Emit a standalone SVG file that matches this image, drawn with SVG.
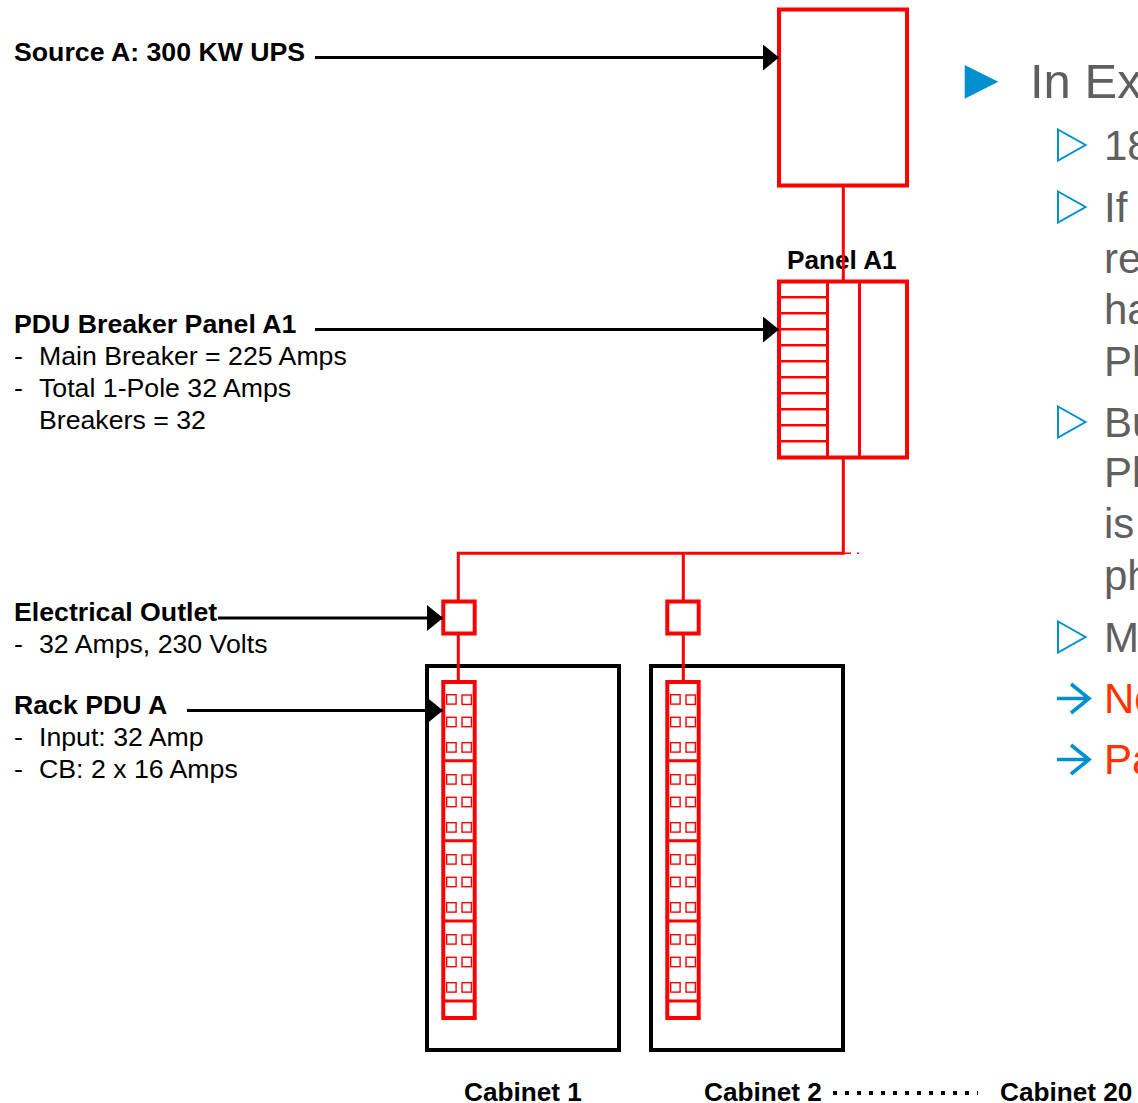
<svg xmlns="http://www.w3.org/2000/svg" xmlns:xlink="http://www.w3.org/1999/xlink" width="1138" height="1103" viewBox="0 0 1138 1103">
<style>
text{font-family:"Liberation Sans",Arial,sans-serif}
.lb{font-size:26.7px;fill:#000;font-weight:700}
.cb{font-size:26.2px;fill:#000;font-weight:700}
.lr{font-size:26.7px;fill:#000}
.h1{font-size:49px;fill:#5f5f5f}
.h2{font-size:42px;fill:#5f5f5f}
.hr{font-size:42px;fill:#ff3300}
.red{fill:none;stroke:#f00;stroke-width:4}
.wire{fill:none;stroke:#f00;stroke-width:3}
.thin{fill:none;stroke:#f00;stroke-width:3}
.sock{fill:none;stroke:#f00;stroke-width:1.4}
.cab{fill:none;stroke:#000;stroke-width:4}
.lead{fill:none;stroke:#000;stroke-width:3}
.tri{fill:none;stroke:#0090d0;stroke-width:2}
.arr{fill:none;stroke:#0090d0;stroke-width:3.6}
</style>
<defs>
<marker id="ah" markerUnits="userSpaceOnUse" markerWidth="16" markerHeight="26" refX="16" refY="13" orient="auto"><path d="M0 0L16 13L0 26Z" fill="#000"/></marker>
<g id="sockets">
<rect class="sock" x="446.7" y="694.7" width="9.4" height="9.4"/><rect class="sock" x="462" y="695" width="9.4" height="9.4"/>
<rect class="sock" x="446.7" y="717.3" width="9.4" height="9.4"/><rect class="sock" x="462" y="717.3" width="9.4" height="9.4"/>
<rect class="sock" x="446.7" y="742.7" width="9.4" height="9.4"/><rect class="sock" x="462" y="742.7" width="9.4" height="9.4"/>
</g>
<g id="rackpdu">
<rect class="red" x="443.3" y="682" width="31.4" height="336"/>
<path class="thin" d="M443 760.7H475M443 840.7H475M443 921H475M443 1001H475"/>
<use xlink:href="#sockets"/><use xlink:href="#sockets" y="80"/><use xlink:href="#sockets" y="160"/><use xlink:href="#sockets" y="240"/>
</g>
</defs>

<g id="cabinet-1"><rect class="cab" x="427" y="666" width="192" height="384"/><text class="cb" x="464" y="1101">Cabinet 1</text></g>
<g id="cabinet-2"><rect class="cab" x="651" y="666" width="192" height="384"/><text class="cb" x="704" y="1101">Cabinet 2</text></g>
<g id="cabinet-20"><text class="cb" x="1000" y="1101">Cabinet 20</text></g>

<g id="label-source"><text class="lb" x="14" y="61">Source A: 300 KW UPS</text></g>
<g id="label-pdu">
<text class="lb" x="14" y="333">PDU Breaker Panel A1</text>
<text class="lr" x="14" y="365">-</text><text class="lr" x="39" y="365">Main Breaker = 225 Amps</text>
<text class="lr" x="14" y="397">-</text><text class="lr" x="39" y="397">Total 1-Pole 32 Amps</text>
<text class="lr" x="39" y="429">Breakers = 32</text>
</g>
<g id="label-outlet">
<text class="lb" x="14" y="621">Electrical Outlet</text>
<text class="lr" x="14" y="653">-</text><text class="lr" x="39" y="653">32 Amps, 230 Volts</text>
</g>
<g id="label-rack">
<text class="lb" x="14" y="714">Rack PDU A</text>
<text class="lr" x="14" y="746">-</text><text class="lr" x="39" y="746">Input: 32 Amp</text>
<text class="lr" x="14" y="778">-</text><text class="lr" x="39" y="778">CB: 2 x 16 Amps</text>
</g>

<g id="ups"><rect class="red" x="779" y="9.5" width="128" height="176"/></g>
<g id="panel-a1">
<text class="cb" x="787" y="269">Panel A1</text>
<rect class="red" x="779" y="281.5" width="128" height="176"/>
<path class="wire" d="M827.5 281V458M859.5 281V458"/>
<path fill="none" stroke="#f00" stroke-width="2.4" d="M779 297.3H827M779 313.3H827M779 329.3H827M779 345.3H827M779 361.3H827M779 377.3H827M779 393.3H827M779 409.3H827M779 425.3H827M779 441.3H827"/>
</g>
<g id="outlet-1"><rect class="red" x="443.3" y="601.5" width="31.4" height="32"/></g>
<g id="outlet-2"><rect class="red" x="667.3" y="601.5" width="31.4" height="32"/></g>
<g id="rack-pdu-1"><use xlink:href="#rackpdu"/></g>
<g id="rack-pdu-2"><use xlink:href="#rackpdu" x="224"/></g>

<g id="connectors">
<path class="wire" d="M843.3 186V281M843.3 458V553.3H458.3V600M683.3 553.3V600M458.3 635V680M683.3 635V680"/>
<path fill="none" stroke="#f00" stroke-width="1.5" d="M843 553.3H851M857 553.3H859"/>
<path class="lead" marker-end="url(#ah)" d="M315 57.5H779"/>
<path class="lead" marker-end="url(#ah)" d="M315 329.5H779"/>
<path class="lead" marker-end="url(#ah)" d="M218 618H443"/>
<path class="lead" marker-end="url(#ah)" d="M187 710.5H443"/>
<path fill="none" stroke="#000" stroke-width="4" stroke-dasharray="4 8" d="M833 1093H978"/>
</g>

<g id="bullets">
<path fill="#0090d0" d="M964.7 65L998.3 81.8L964.7 98.7Z"/>
<path class="tri" d="M1058 129.5L1085.5 145L1058 160.5Z"/>
<path class="tri" d="M1058 191.5L1085.5 207L1058 222.5Z"/>
<path class="tri" d="M1058 406.5L1085.5 422L1058 437.5Z"/>
<path class="tri" d="M1058 621.5L1085.5 637L1058 652.5Z"/>
<path class="arr" d="M1057 698.5H1089M1071 684L1089 698.5L1071 713"/>
<path class="arr" d="M1057 759.5H1089M1071 745L1089 759.5L1071 774"/>
</g>
<g id="body-text">
<text class="h1" x="1030" y="98">In Ex</text>
<text class="h2" x="1104" y="160">18</text>
<text class="h2" x="1104" y="222">If</text>
<text class="h2" x="1104" y="273">re</text>
<text class="h2" x="1104" y="324">ha</text>
<text class="h2" x="1104" y="376">Pl</text>
<text class="h2" x="1104" y="437">Bu</text>
<text class="h2" x="1104" y="487">Pl</text>
<text class="h2" x="1104" y="538">is</text>
<text class="h2" x="1104" y="590">ph</text>
<text class="h2" x="1104" y="652">M</text>
<text class="hr" x="1104" y="713">No</text>
<text class="hr" x="1104" y="774">Pa</text>
</g>
</svg>
